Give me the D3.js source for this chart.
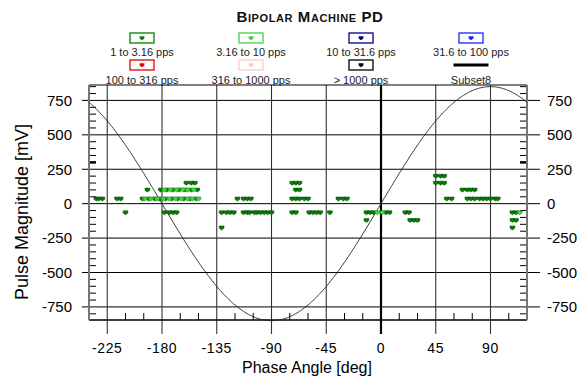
<!DOCTYPE html>
<html>
<head>
<meta charset="utf-8">
<script src="https://cdn.jsdelivr.net/npm/d3@7"></script>
<style>
  body { margin: 0; background: #fff; }
  text { font-family: "Liberation Sans", Arial, sans-serif; fill: #000; }
</style>
</head>
<body>
<div id="chart"></div>
<script>
// pulse data, [phase deg, magnitude mV]
var rate1Points = [
    [-234,35],[-232,35],[-229,35],[-217,35],[-214,35],
    [-196,35],[-191,35],[-186,35],[-182,35],[-177,35],[-172,35],[-167,35],[-162,35],[-157,35],[-152,35],
    [-118,35],[-113,35],[-110,35],[-107,35],
    [-73,35],[-70,35],[-67,35],[-63,35],[-60,35],
    [-35,35],[-31,35],[-28,35],
    [54,35],[58,35],[71,35],[74,35],[77,35],[81,35],[84,35],[87,35],[90,35],[94,35],[96,35],
    [-192,100],[-181,100],[-176,100],[-171,100],[-166,100],[-161,100],[-156,100],[-151,100],
    [-70,100],[-67,100],[67,100],[71,100],[74,100],[77,100],
    [-160,150],[-156,150],[-153,150],[-73,150],[-70,150],[-67,150],[45,150],[49,150],[52,150],
    [45,200],[49,200],[52,200],
    [-210,-65],[-178,-65],[-174,-65],[-171,-65],[-168,-65],
    [-131,-65],[-127,-65],[-124,-65],[-121,-65],
    [-113,-65],[-110,-65],[-108,-65],[-104,-65],[-102,-65],[-99,-65],[-96,-65],[-93,-65],[-90,-65],
    [-73,-65],[-70,-65],[-59,-65],[-56,-65],[-53,-65],[-50,-65],[-42,-65],
    [-12,-65],[-9,-65],[-6,-65],[4,-65],[7,-65],[20,-65],[23,-65],[108,-65],[111,-65],
    [24,-121],[27,-121],[30,-121],[-12,-121],[108,-121],[111,-121],
    [-131,-175],[108,-175]
];
var rate2Points = [
    [-194,35],[-189,35],[-184,35],[-179,35],[-174,35],[-169,35],[-164,35],[-159,35],[-155,35],[-150,35],
    [-178,100],[-173,100],[-168,100],[-163,100],[-159,100],[-154,100],
    [-3,-65],[1,-65],[114,-65]
];

var xTicks = [-225, -180, -135, -90, -45, 0, 45, 90];
var yTicks = [-750, -500, -250, 0, 250, 500, 750];
var sineAmplitude = 850;

var legendLabels = ["1 to 3.16 pps", "3.16 to 10 pps", "10 to 31.6 pps", "31.6 to 100 pps",
                    "100 to 316 pps", "316 to 1000 pps", "> 1000 pps", "Subset8"];
var legendColors = ["#008000", "#3ed43e", "#000080", "#2020ff",
                    "#e00000", "#ffc8c8", "#000000", "#000000"];

var svgWidth = 579;
var svgHeight = 377;
var margin = { top: 85, bottom: 57, left: 89, right: 52 };
var width = svgWidth - margin.left - margin.right;
var height = svgHeight - margin.top - margin.bottom;

var svg = d3.select("#chart")
    .append("svg")
    .attr("width", svgWidth)
    .attr("height", svgHeight);

var chartGroup = svg.append("g")
    .attr("transform", `translate(${margin.left},${margin.top})`);

var xScale = d3.scaleLinear().domain([-240, 120]).range([0, width]);
var yScale = d3.scaleLinear().domain([-845, 862]).range([height, 0]);

// title
svg.append("text")
    .attr("x", 310)
    .attr("y", 22)
    .attr("text-anchor", "middle")
    .style("font-size", "15px")
    .style("letter-spacing", "0.6px")
    .style("font-weight", "bold")
    .style("font-variant", "small-caps")
    .style("fill", "#111")
    .text("Bipolar Machine PD");

// legend
var markerPath = "M-2.4,-1.8L2.4,-1.8L2.4,0.5L0,2.2L-2.4,0.5Z";
var colX = [142, 251, 361, 471];
legendLabels.forEach(function(label, i) {
    var cx = colX[i % 4];
    var row = Math.floor(i / 4);
    var boxY = row === 0 ? 33 : 60;
    var g = svg.append("g");
    if (label === "Subset8") {
        g.append("rect")
            .attr("x", cx - 17.5).attr("y", boxY + 3.5)
            .attr("width", 35).attr("height", 3)
            .attr("fill", "#000");
    } else {
        g.append("rect")
            .attr("x", cx - 12).attr("y", boxY)
            .attr("width", 24).attr("height", 10)
            .attr("fill", "#fff")
            .attr("stroke", legendColors[i])
            .attr("stroke-width", 1.3);
        g.append("path")
            .attr("d", markerPath)
            .attr("transform", `translate(${cx},${boxY + 5})`)
            .attr("fill", legendColors[i]);
    }
    g.append("text")
        .attr("x", cx)
        .attr("y", row === 0 ? 56 : 83.5)
        .attr("text-anchor", "middle")
        .style("font-size", "11px")
        .style("fill", "#222")
        .text(label);
});

// grid lines
chartGroup.selectAll(".hgrid")
    .data(yTicks)
    .enter()
    .append("line")
    .attr("x1", -7).attr("x2", width + 13)
    .attr("y1", d => yScale(d)).attr("y2", d => yScale(d))
    .attr("stroke", "#000")
    .attr("stroke-width", 1);

chartGroup.selectAll(".vgrid")
    .data(xTicks)
    .enter()
    .append("line")
    .attr("x1", d => xScale(d)).attr("x2", d => xScale(d))
    .attr("y1", 0).attr("y2", height + 14)
    .attr("stroke", d => d === 0 ? "#000" : "#333")
    .attr("stroke-width", d => d === 0 ? 2.2 : 1.1);

// minor ticks
var yMinor = d3.range(-800, 851, 50).filter(d => d % 250 !== 0);
var xMinor = d3.range(-240, 121, 15).filter(d => d % 45 !== 0);

chartGroup.selectAll(".yminorL")
    .data(yMinor)
    .enter()
    .append("line")
    .attr("x1", 0).attr("x2", 7)
    .attr("y1", d => yScale(d)).attr("y2", d => yScale(d))
    .attr("stroke", "#000")
    .attr("stroke-width", d => d === 300 ? 2.5 : 1);

chartGroup.selectAll(".yminorR")
    .data(yMinor)
    .enter()
    .append("line")
    .attr("x1", width - 7).attr("x2", width)
    .attr("y1", d => yScale(d)).attr("y2", d => yScale(d))
    .attr("stroke", "#000")
    .attr("stroke-width", d => d === 300 ? 2.5 : 1);

chartGroup.selectAll(".xminor")
    .data(xMinor)
    .enter()
    .append("line")
    .attr("x1", d => xScale(d)).attr("x2", d => xScale(d))
    .attr("y1", height - 7).attr("y2", height)
    .attr("stroke", "#000");

// frame
chartGroup.append("line").attr("x1", 0).attr("x2", width).attr("y1", 0).attr("y2", 0)
    .attr("stroke", "#000");
chartGroup.append("line").attr("x1", 0).attr("x2", width).attr("y1", height).attr("y2", height)
    .attr("stroke", "#000").attr("stroke-width", 1.3);
chartGroup.append("line").attr("x1", 0).attr("x2", 0).attr("y1", 0).attr("y2", height)
    .attr("stroke", "#777").attr("stroke-width", 2);
chartGroup.append("line").attr("x1", width).attr("x2", width).attr("y1", 0).attr("y2", height)
    .attr("stroke", "#777").attr("stroke-width", 2);

// tick labels
chartGroup.selectAll(".ylabL")
    .data(yTicks)
    .enter()
    .append("text")
    .attr("x", -17)
    .attr("y", d => yScale(d))
    .attr("dy", "0.36em")
    .attr("text-anchor", "end")
    .style("font-size", "15px")
    .text(d => d);

chartGroup.selectAll(".ylabR")
    .data(yTicks)
    .enter()
    .append("text")
    .attr("x", width + 20)
    .attr("y", d => yScale(d))
    .attr("dy", "0.36em")
    .attr("text-anchor", "start")
    .style("font-size", "15px")
    .text(d => d);

chartGroup.selectAll(".xlab")
    .data(xTicks)
    .enter()
    .append("text")
    .attr("x", d => xScale(d))
    .attr("y", height + 33)
    .attr("text-anchor", "middle")
    .style("font-size", "14px")
    .style("letter-spacing", "0.6px")
    .text(d => d);

// axis titles
svg.append("text")
    .attr("transform", "translate(28,212) rotate(-90)")
    .attr("text-anchor", "middle")
    .style("font-size", "18px")
    .text("Pulse Magnitude [mV]");

svg.append("text")
    .attr("x", 307)
    .attr("y", 372.5)
    .attr("text-anchor", "middle")
    .style("font-size", "16px")
    .text("Phase Angle [deg]");

// reference sine (Subset8)
var sineData = d3.range(-240, 120.5, 1);
var sineLine = d3.line()
    .x(d => xScale(d))
    .y(d => yScale(sineAmplitude * Math.sin(d * Math.PI / 180)));
chartGroup.append("path")
    .datum(sineData)
    .attr("d", sineLine)
    .attr("fill", "none")
    .attr("stroke", "#222")
    .attr("stroke-width", 0.9);

// pulse markers
function drawPoints(points, fill, stroke) {
    chartGroup.append("g")
        .selectAll("path")
        .data(points)
        .enter()
        .append("path")
        .attr("d", markerPath)
        .attr("transform", d => `translate(${xScale(d[0])},${yScale(d[1])})`)
        .attr("fill", fill)
        .attr("stroke", stroke)
        .attr("stroke-width", 0.5);
}
drawPoints(rate1Points, "#008000", "#004000");
drawPoints(rate2Points, "#3ed43e", "#1a8a1a");
</script>
</body>
</html>
